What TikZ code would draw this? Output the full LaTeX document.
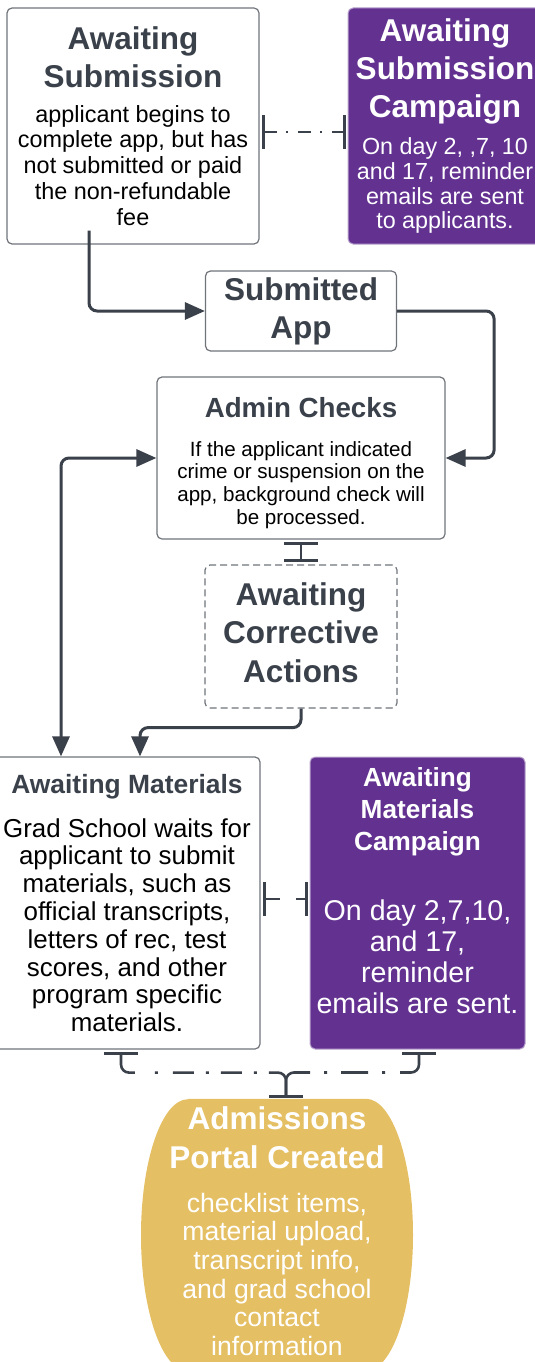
\documentclass[tikz,border=0pt]{standalone}
\usepackage{fontspec}
\setmainfont{Liberation Sans}
\usetikzlibrary{positioning,arrows.meta,backgrounds}

\definecolor{ink}{RGB}{58,65,74}
\definecolor{rim}{RGB}{112,116,122}
\definecolor{campaign}{RGB}{99,50,145}
\definecolor{portalgold}{RGB}{229,191,99}

\newcommand{\hd}[2]{\fontsize{#1pt}{#2pt}\selectfont\bfseries\spaceskip=\fontdimen2\font\xspaceskip=\fontdimen2\font}
\newcommand{\bd}[2]{\fontsize{#1pt}{#2pt}\selectfont\mdseries\spaceskip=\fontdimen2\font\xspaceskip=\fontdimen2\font}

\tikzstyle{every node}+=[inner sep=0pt,align=center]
\tikzstyle{state}=[draw=rim,line width=1.2pt,rounded corners=5pt,fill=white,text=ink]
\tikzstyle{campaign box}=[draw=campaign!45,line width=1pt,rounded corners=5pt,fill=campaign,text=white]
\tikzstyle{flow}=[draw=ink,line width=3pt,rounded corners=8pt]
\tikzstyle{tie}=[draw=ink,line width=2.6pt,dash pattern=on 13pt off 9pt on 2pt off 10pt,shorten <=2pt,shorten >=2pt]
\tikzset{>={Triangle[length=20pt,width=17pt]}, tee/.tip={Bar[width=34pt,line width=3pt]}}

\begin{document}
\begin{tikzpicture}

\useasboundingbox (0,0) rectangle (535pt,-1362pt);

\node[state,minimum width=252pt,minimum height=236pt,text width=244pt] (sub) at (133pt,-126pt)
  {\hd{31.5}{38}Awaiting\\Submission\\[9pt]\bd{23.4}{25.7}\color{black}applicant begins to\\complete app, but has\\not submitted or paid\\the non-refundable\\fee\par};
\node[campaign box,right of=sub,node distance=312pt,minimum width=194pt,minimum height=236pt,text width=188pt] (subc)
  {\hd{31.5}{38}Awaiting\\Submission\\Campaign\\[13pt]\bd{23.3}{24.7}On day 2, ,7, 10\\and 17, reminder\\emails are sent\\to applicants.\\[-20pt]\mbox{}\par};

\node[state,below of=sub,node distance=185pt,xshift=168pt,minimum width=191pt,minimum height=80pt,text width=183pt] (app)
  {\hd{31.5}{38}Submitted\\App\par};
\node[state,below of=app,node distance=147pt,minimum width=288pt,minimum height=162pt,text width=280pt] (chk)
  {\hd{27.7}{33}\mbox{}\\[-3pt]Admin Checks\\[16pt]\bd{20.6}{22.7}\color{black}If the applicant indicated\\crime or suspension on the\\app, background check will\\be processed.\par};
\node[state,dash pattern=on 7pt off 4pt,below of=chk,node distance=178.5pt,minimum width=192pt,minimum height=143pt,text width=184pt] (cor)
  {\hd{31.5}{38.5}Awaiting\\Corrective\\Actions\\[-30.5pt]\mbox{}\par};

\node[state,below of=cor,node distance=266.5pt,xshift=-174pt,minimum width=266pt,minimum height=292pt,text width=258pt] (mat)
  {\hd{26.4}{32}Awaiting Materials\\[16pt]\bd{25.9}{27.8}\color{black}Grad School waits for\\applicant to submit\\materials, such as\\official transcripts,\\letters of rec, test\\scores, and other\\program specific\\materials.\par};
\node[campaign box,right of=mat,node distance=290.5pt,minimum width=215pt,minimum height=292pt,text width=209pt] (matc)
  {\hd{26.2}{32}Awaiting\\Materials\\Campaign\\[40pt]\bd{28.6}{30.7}On day 2,7,10,\\and 17,\\reminder\\emails are sent.\\[-5pt]\mbox{}\par};

\node[below of=mat,node distance=332pt,xshift=150pt,minimum width=272pt,minimum height=272pt,text width=260pt,text=white] (portal)
  {\hd{31.5}{39}Admissions\\Portal Created\\[15pt]\bd{26.6}{28.7}checklist items,\\material upload,\\transcript info,\\and grad school\\contact\\information\\[-20.7pt]\mbox{}\par};
\begin{scope}[on background layer]
\fill[portalgold] ([xshift=-89pt]portal.north) -- ([xshift=89pt]portal.north)
  arc[start angle=90,end angle=0,x radius=47pt,y radius=136pt]
  arc[start angle=0,end angle=-90,x radius=47pt,y radius=136pt]
  -- ([xshift=-89pt]portal.south)
  arc[start angle=270,end angle=180,x radius=47pt,y radius=136pt]
  arc[start angle=180,end angle=90,x radius=47pt,y radius=136pt] -- cycle;
\end{scope}

% flow of the application
\draw[flow,->] ([xshift=-44pt,yshift=14pt]sub.south) |- (app.west);
\draw[flow,->] (app.east) -- ++(97pt,0) |- (chk.east);
\draw[flow,<->] (chk.west) -| ([xshift=-66pt]mat.north);
\draw[flow,->] (cor.south) -- ++(0,-19pt) -| ([xshift=13pt]mat.north);
\draw[draw=ink,line width=1.5pt,{tee}-{tee},shorten <=2pt,shorten >=2pt] (chk.south) -- (cor.north);

% campaigns
\draw[tie,{tee}-{tee}] ([yshift=-6pt]sub.east) -- ([yshift=-6pt]subc.west);
\draw[tie,{tee}-{tee},dash pattern=on 15pt off 16pt] ([yshift=4pt]mat.east) -- ([yshift=4pt]matc.west);
\draw[tie,{tee}-{tee},rounded corners=8pt,shorten >=1pt,
  dash pattern=on 29pt off 20pt on 3pt off 15pt on 21pt off 12pt on 3pt off 12pt on 21pt off 12pt on 3pt off 12pt on 100pt]
  ([xshift=-6pt]mat.south) -- ++(0,-23pt) -| ([xshift=9pt]portal.north);
\draw[tie,{tee}-{tee},rounded corners=8pt,shorten >=1pt,
  dash pattern=on 34pt off 15pt on 3pt off 14pt on 27pt off 14pt on 3pt off 14pt on 100pt]
  ([xshift=1.5pt]matc.south) -- ++(0,-23pt) -| ([xshift=9pt]portal.north);

\end{tikzpicture}
\end{document}
